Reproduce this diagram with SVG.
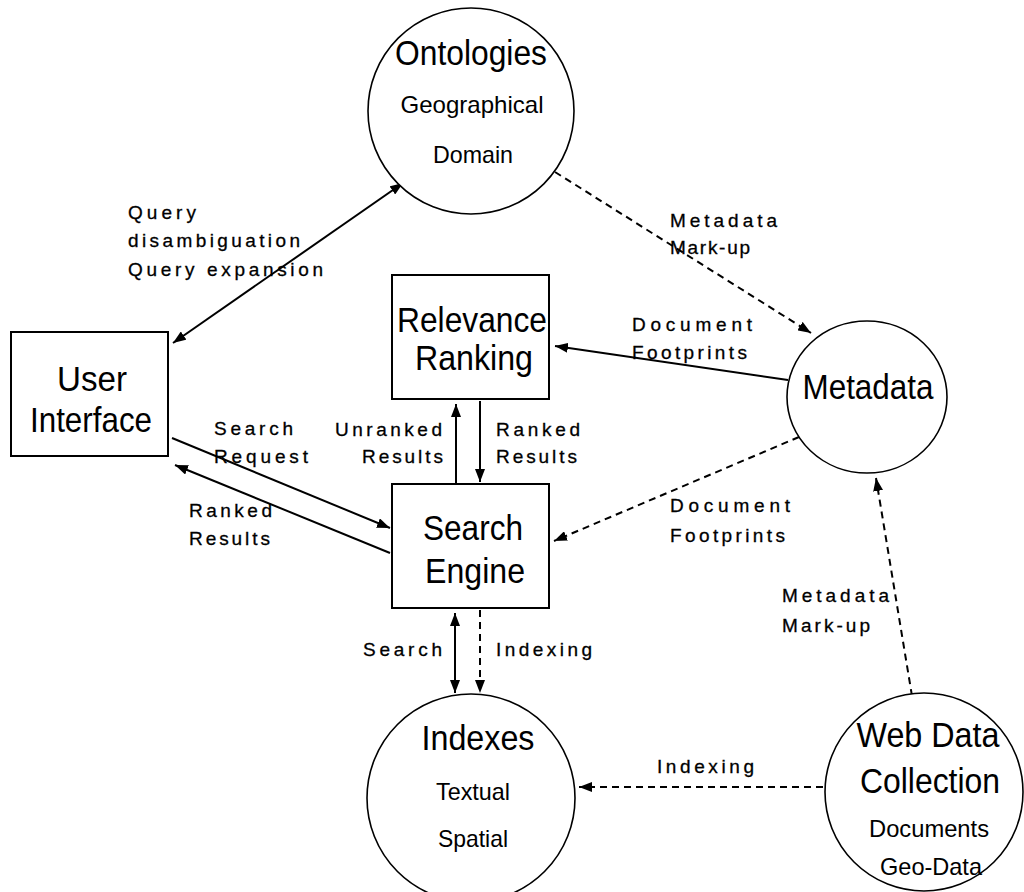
<svg xmlns="http://www.w3.org/2000/svg" width="1024" height="892" viewBox="0 0 1024 892">
  <style>
    .bg { fill: #ffffff; }
    .box { fill: #ffffff; stroke: #000; stroke-width: 2; }
    .circ { fill: #ffffff; stroke: #000; stroke-width: 1.6; }
    .title { font-family: "Liberation Sans", Arial, sans-serif; font-size: 35px; fill: #000; text-anchor: middle; }
    .sub { font-family: "Liberation Sans", Arial, sans-serif; font-size: 24px; fill: #000; text-anchor: middle; }
    .lbl { font-family: "Liberation Sans", Arial, sans-serif; font-size: 19px; fill: #000; stroke: #000; stroke-width: 0.3; }
    .solid { fill: none; stroke: #000; stroke-width: 2; }
    .dash { fill: none; stroke: #000; stroke-width: 2; stroke-dasharray: 7 5; }
  </style>
  <defs>
    <marker id="arrow" markerUnits="userSpaceOnUse" markerWidth="14" markerHeight="10" refX="13" refY="5" orient="auto-start-reverse" viewBox="0 0 14 10">
      <path d="M0,0 L13,5 L0,10 z" fill="#000" stroke="none"/>
    </marker>
  </defs>

  <rect class="bg" x="0" y="0" width="1024" height="892"/>

  <!-- connectors and their labels -->
  <g id="connectors">
    <line class="solid" x1="173" y1="343" x2="403" y2="183" marker-start="url(#arrow)" marker-end="url(#arrow)"/>
    <line class="dash" x1="555" y1="172" x2="811" y2="333" marker-end="url(#arrow)"/>
    <line class="solid" x1="788" y1="380" x2="555" y2="346" marker-end="url(#arrow)"/>
    <line class="dash" x1="799" y1="437" x2="554" y2="541" marker-end="url(#arrow)"/>
    <line class="solid" x1="172" y1="438" x2="390" y2="528" marker-end="url(#arrow)"/>
    <line class="solid" x1="390" y1="553" x2="175" y2="465" marker-end="url(#arrow)"/>
    <line class="solid" x1="456" y1="484" x2="456" y2="404" marker-end="url(#arrow)"/>
    <line class="solid" x1="480" y1="401" x2="480" y2="482" marker-end="url(#arrow)"/>
    <line class="solid" x1="455" y1="613" x2="455" y2="693" marker-start="url(#arrow)" marker-end="url(#arrow)"/>
    <line class="dash" x1="480" y1="610" x2="480" y2="693" marker-end="url(#arrow)"/>
    <line class="dash" x1="912" y1="696" x2="876" y2="478" marker-end="url(#arrow)"/>
    <line class="dash" x1="823" y1="787" x2="579" y2="787" marker-end="url(#arrow)"/>

    <text class="lbl" x="128" y="219" textLength="68" lengthAdjust="spacing">Query</text>
    <text class="lbl" x="128" y="247" textLength="172" lengthAdjust="spacing">disambiguation</text>
    <text class="lbl" x="128" y="276" textLength="195" lengthAdjust="spacing">Query expansion</text>
    <text class="lbl" x="670" y="227" textLength="107" lengthAdjust="spacing">Metadata</text>
    <text class="lbl" x="670" y="254" textLength="80" lengthAdjust="spacing">Mark-up</text>
    <text class="lbl" x="632" y="331" textLength="120" lengthAdjust="spacing">Document</text>
    <text class="lbl" x="632" y="359" textLength="115" lengthAdjust="spacing">Footprints</text>
    <text class="lbl" x="214" y="435" textLength="79" lengthAdjust="spacing">Search</text>
    <text class="lbl" x="214" y="463" textLength="94" lengthAdjust="spacing">Request</text>
    <text class="lbl" x="335" y="436" textLength="107" lengthAdjust="spacing">Unranked</text>
    <text class="lbl" x="362" y="463" textLength="81" lengthAdjust="spacing">Results</text>
    <text class="lbl" x="496" y="436" textLength="84" lengthAdjust="spacing">Ranked</text>
    <text class="lbl" x="496" y="463" textLength="81" lengthAdjust="spacing">Results</text>
    <text class="lbl" x="189" y="517" textLength="83" lengthAdjust="spacing">Ranked</text>
    <text class="lbl" x="189" y="545" textLength="81" lengthAdjust="spacing">Results</text>
    <text class="lbl" x="363" y="656" textLength="79" lengthAdjust="spacing">Search</text>
    <text class="lbl" x="496" y="656" textLength="96" lengthAdjust="spacing">Indexing</text>
    <text class="lbl" x="670" y="512" textLength="120" lengthAdjust="spacing">Document</text>
    <text class="lbl" x="670" y="542" textLength="115" lengthAdjust="spacing">Footprints</text>
    <text class="lbl" x="782" y="602" textLength="107" lengthAdjust="spacing">Metadata</text>
    <text class="lbl" x="782" y="632" textLength="88" lengthAdjust="spacing">Mark-up</text>
    <text class="lbl" x="657" y="773" textLength="97" lengthAdjust="spacing">Indexing</text>
  </g>

  <g id="ontologies">
    <circle class="circ" cx="471" cy="111" r="103"/>
    <text class="title" x="471" y="65" textLength="152" lengthAdjust="spacingAndGlyphs">Ontologies</text>
    <text class="sub" x="472" y="113" textLength="143" lengthAdjust="spacingAndGlyphs">Geographical</text>
    <text class="sub" x="473" y="163" textLength="80" lengthAdjust="spacingAndGlyphs">Domain</text>
  </g>

  <g id="user-interface">
    <rect class="box" x="11" y="332" width="157" height="124"/>
    <text class="title" x="92" y="391" textLength="70" lengthAdjust="spacingAndGlyphs">User</text>
    <text class="title" x="91" y="432" textLength="122" lengthAdjust="spacingAndGlyphs">Interface</text>
  </g>

  <g id="relevance-ranking">
    <rect class="box" x="392" y="275" width="157" height="124"/>
    <text class="title" x="472" y="332" textLength="150" lengthAdjust="spacingAndGlyphs">Relevance</text>
    <text class="title" x="474" y="370" textLength="118" lengthAdjust="spacingAndGlyphs">Ranking</text>
  </g>

  <g id="search-engine">
    <rect class="box" x="392" y="484" width="157" height="124"/>
    <text class="title" x="473" y="540" textLength="100" lengthAdjust="spacingAndGlyphs">Search</text>
    <text class="title" x="475" y="583" textLength="100" lengthAdjust="spacingAndGlyphs">Engine</text>
  </g>

  <g id="metadata">
    <ellipse class="circ" cx="867" cy="397" rx="80" ry="76"/>
    <text class="title" x="868" y="399" textLength="131" lengthAdjust="spacingAndGlyphs">Metadata</text>
  </g>

  <g id="indexes">
    <circle class="circ" cx="471" cy="798" r="104"/>
    <text class="title" x="478" y="750" textLength="113" lengthAdjust="spacingAndGlyphs">Indexes</text>
    <text class="sub" x="473" y="800" textLength="74" lengthAdjust="spacingAndGlyphs">Textual</text>
    <text class="sub" x="473" y="847" textLength="70" lengthAdjust="spacingAndGlyphs">Spatial</text>
  </g>

  <g id="web-data-collection">
    <circle class="circ" cx="924" cy="792" r="99"/>
    <text class="title" x="928" y="747" textLength="143" lengthAdjust="spacingAndGlyphs">Web Data</text>
    <text class="title" x="930" y="793" textLength="140" lengthAdjust="spacingAndGlyphs">Collection</text>
    <text class="sub" x="929" y="837" textLength="120" lengthAdjust="spacingAndGlyphs">Documents</text>
    <text class="sub" x="931" y="875" textLength="102" lengthAdjust="spacingAndGlyphs">Geo-Data</text>
  </g>
</svg>
